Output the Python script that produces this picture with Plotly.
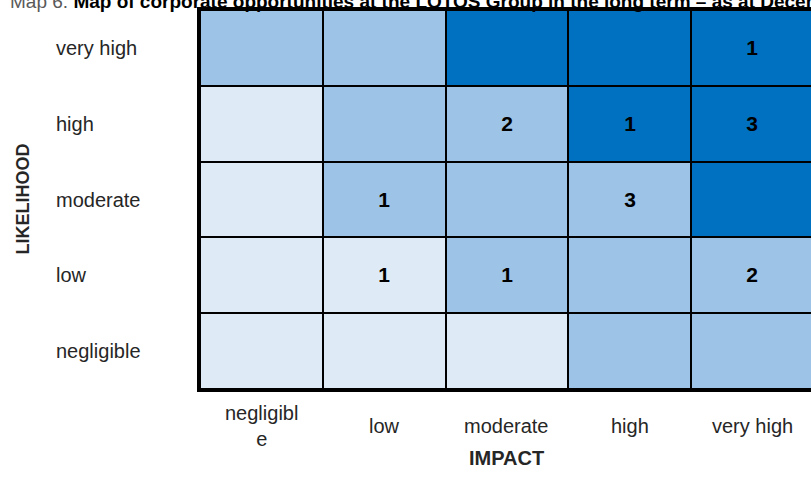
import plotly.graph_objects as go

# ---- data ----
impact = ["negligible", "low", "moderate", "high", "very high"]
impact_labels = ["negligibl<br>e", "low", "moderate", "high", "very high"]
likelihood = ["negligible", "low", "moderate", "high", "very high"]  # bottom -> top

# risk level of each cell (0 = light, 1 = medium, 2 = dark), rows bottom -> top
level = [
    [0, 0, 0, 1, 1],   # negligible
    [0, 0, 1, 1, 1],   # low
    [0, 1, 1, 1, 2],   # moderate
    [0, 1, 1, 2, 2],   # high
    [1, 1, 2, 2, 2],   # very high
]
# number of opportunities in each cell
counts = [
    [None, None, None, None, None],
    [None, 1, 1, None, 2],
    [None, 1, None, 3, None],
    [None, None, 2, 1, 3],
    [None, None, None, None, 1],
]

title_prefix = "Map 6."
title_text = "Map of corporate opportunities at the LOTOS Group in the long term – as at December 31st 2016"

LIGHT, MED, DARK = "#DEEBF7", "#9DC3E6", "#0070C0"
FONT = "Arial, Liberation Sans, sans-serif"
TXT = "#262626"

text = [["" if v is None else str(v) for v in row] for row in counts]

fig = go.Figure(go.Heatmap(
    z=level, x=impact, y=likelihood,
    text=text, texttemplate="<b>%{text}</b>",
    textfont=dict(family=FONT, size=21, color="black"),
    colorscale=[[0, LIGHT], [0.5, MED], [1, DARK]],
    zmin=0, zmax=2, showscale=False,
    xgap=2, ygap=2, hoverinfo="skip",
))

W, H = 811, 492
ml, mr, mt, mb = 200, 0, 10, 103
plot_w = W - ml - mr
col_w = (691 - 200) / 4.0
x_end = -0.5 + plot_w / col_w
plot_h = H - mt - mb

annotations = []
# row labels (left aligned)
for cat in likelihood:
    annotations.append(dict(x=(54 - ml) / plot_w, xref="paper", y=cat, yref="y", text=cat,
                            showarrow=False, xanchor="left", yanchor="middle",
                            font=dict(family=FONT, size=20, color=TXT)))
# column labels
for cat, lab in zip(impact, impact_labels):
    annotations.append(dict(x=cat, xref="x", y=-(426 - (mt + plot_h)) / plot_h, yref="paper",
                            text=lab, showarrow=False, xanchor="center", yanchor="middle",
                            font=dict(family=FONT, size=20, color=TXT)))
# axis titles
annotations.append(dict(x=impact[2], xref="x", y=-(458 - (mt + plot_h)) / plot_h, yref="paper",
                        text="<b>IMPACT</b>", showarrow=False, xanchor="center", yanchor="middle",
                        font=dict(family=FONT, size=20, color=TXT)))
annotations.append(dict(x=(22 - ml) / plot_w, xref="paper", y=likelihood[2], yref="y",
                        text="<b>LIKELIHOOD</b>", textangle=-90, showarrow=False,
                        xanchor="center", yanchor="middle",
                        font=dict(family=FONT, size=18, color=TXT)))
# title (partly cut off at the top, as in the reference)
annotations.append(dict(x=(8 - ml) / plot_w, xref="paper", y=1 + (mt - 14) / plot_h, yref="paper",
                        text=f"<span style='color:#595959'>{title_prefix}</span> <b>{title_text}</b>",
                        showarrow=False, xanchor="left", yanchor="bottom",
                        font=dict(family=FONT, size=19, color="black")))

fig.update_layout(
    width=W, height=H,
    margin=dict(l=ml, r=mr, t=mt, b=mb, pad=0),
    paper_bgcolor="white", plot_bgcolor="black",
    annotations=annotations,
    showlegend=False,
)
fig.update_xaxes(range=[-0.5, x_end], showticklabels=False, ticks="", showgrid=False,
                 zeroline=False, showline=True, linewidth=3, linecolor="black", mirror=True)
fig.update_yaxes(range=[-0.5, 4.5], showticklabels=False, ticks="", showgrid=False,
                 zeroline=False, showline=True, linewidth=3, linecolor="black", mirror=False)

fig.write_html("out.html", config={"displayModeBar": False},
               post_script="document.body.style.margin='0';document.body.style.overflow='hidden';")
